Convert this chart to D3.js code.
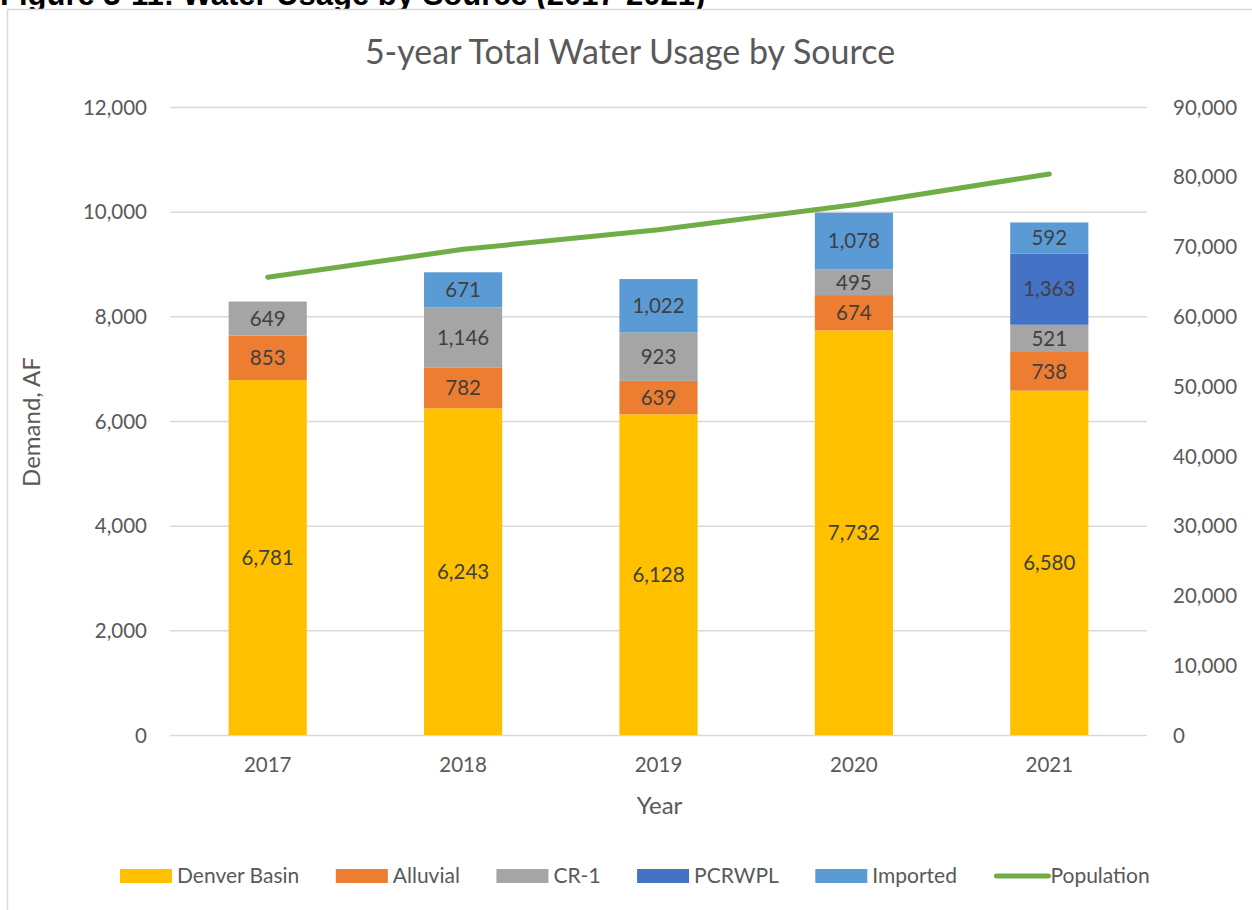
<!DOCTYPE html>
<html>
<head>
<meta charset="utf-8">
<script src="https://cdn.jsdelivr.net/npm/d3@7"></script>
<style>
  html, body { margin: 0; padding: 0; background: #fff; }
  svg { display: block; }
  .tick text { font-family: Lato, "Open Sans", sans-serif; }
</style>
</head>
<body>
<svg id="chart" width="1252" height="910"></svg>
<script>
// data
var years = ["2017", "2018", "2019", "2020", "2021"];
var seriesNames = ["Denver Basin", "Alluvial", "CR-1", "PCRWPL", "Imported"];
var denverBasin = [6781, 6243, 6128, 7732, 6580];
var alluvial = [853, 782, 639, 674, 738];
var cr1 = [649, 1146, 923, 495, 521];
var pcrwpl = [0, 0, 0, 0, 1363];
var imported = [0, 671, 1022, 1078, 592];
var population = [65600, 69600, 72400, 76000, 80400];
var leftTicks = [0, 2000, 4000, 6000, 8000, 10000, 12000];
var rightTicks = [0, 10000, 20000, 30000, 40000, 50000, 60000, 70000, 80000, 90000];

var colors = ["#FFC000", "#ED7D31", "#A5A5A5", "#4472C4", "#5B9BD5"];
var lineColor = "#70AD47";
var font = "Lato, 'Open Sans', sans-serif";
var textColor = "#595959";

var svg = d3.select("#chart");
var W = 1252, H = 910;
var plot = {left: 170, right: 1147, top: 107, bottom: 735};

// page heading, cut off at the top like the source
svg.append("text").text("Figure 3-11: Water Usage by Source (2017-2021)")
    .attr("x", 0).attr("y", 5)
    .attr("font-family", "'Liberation Sans', Arial, sans-serif")
    .attr("font-weight", "bold").attr("font-size", "31px").attr("fill", "#000");

// chart frame
svg.append("rect").attr("x", 7.5).attr("y", 9.5).attr("width", W + 20).attr("height", H + 20)
    .attr("fill", "#fff").attr("stroke", "#d9d9d9").attr("stroke-width", 1.5);

var x = d3.scaleBand().domain(years).range([plot.left, plot.right]).paddingInner(0.6).paddingOuter(0.3);
var y = d3.scaleLinear().domain([0, 12000]).range([plot.bottom, plot.top]);
var y2 = d3.scaleLinear().domain([0, 90000]).range([plot.bottom, plot.top]);
var fmt = d3.format(",");

// gridlines
var grid = svg.append("g").attr("transform", "translate(" + plot.left + ",0)")
    .call(d3.axisLeft(y).tickValues(leftTicks).tickSize(-(plot.right - plot.left)).tickFormat(""));
grid.select(".domain").remove();
grid.selectAll("line").attr("stroke", "#d9d9d9").attr("stroke-width", 1.5);

// left axis labels
var yAxis = svg.append("g").attr("transform", "translate(" + (plot.left - 20) + ",0)")
    .call(d3.axisLeft(y).tickValues(leftTicks).tickSize(0).tickFormat(fmt));
yAxis.select(".domain").remove();
yAxis.selectAll("text").attr("font-size", "20.5px").attr("fill", textColor).attr("dy", "0.35em");

// right axis labels
var y2Axis = svg.append("g").attr("transform", "translate(" + (plot.right + 23) + ",0)")
    .call(d3.axisRight(y2).tickValues(rightTicks).tickSize(0).tickFormat(fmt));
y2Axis.select(".domain").remove();
y2Axis.selectAll("text").attr("font-size", "20.5px").attr("fill", textColor).attr("dy", "0.35em");

// x axis labels
var xAxis = svg.append("g").attr("transform", "translate(0," + plot.bottom + ")")
    .call(d3.axisBottom(x).tickSize(0).tickPadding(22));
xAxis.select(".domain").remove();
xAxis.selectAll("text").attr("font-size", "20.5px").attr("fill", textColor);

// stacked bars
var rows = years.map(function(yr, i){
    return {year: yr, "Denver Basin": denverBasin[i], "Alluvial": alluvial[i], "CR-1": cr1[i], "PCRWPL": pcrwpl[i], "Imported": imported[i]};
});
var stacked = d3.stack().keys(seriesNames)(rows);

var layers = svg.append("g").selectAll("g").data(stacked).enter().append("g")
    .attr("fill", function(d, i){ return colors[i]; });
layers.selectAll("rect").data(function(d){ return d; }).enter().append("rect")
    .attr("x", function(d){ return x(d.data.year); })
    .attr("width", x.bandwidth())
    .attr("y", function(d){ return y(d[1]); })
    .attr("height", function(d){ return y(d[0]) - y(d[1]); });

layers.selectAll("text").data(function(d){ return d.filter(function(s){ return s[1] - s[0] > 0; }); })
    .enter().append("text")
    .text(function(d){ return fmt(d[1] - d[0]); })
    .attr("x", function(d){ return x(d.data.year) + x.bandwidth() / 2; })
    .attr("y", function(d){ return (y(d[0]) + y(d[1])) / 2; })
    .attr("dy", "0.36em")
    .attr("text-anchor", "middle")
    .attr("font-family", font).attr("font-size", "20.5px").attr("fill", "#404040");

// population line
var line = d3.line()
    .x(function(d, i){ return x(years[i]) + x.bandwidth() / 2; })
    .y(function(d){ return y2(d); });
svg.append("path").datum(population).attr("d", line)
    .attr("fill", "none").attr("stroke", lineColor).attr("stroke-width", 5)
    .attr("stroke-linecap", "round").attr("stroke-linejoin", "round");

// titles
svg.append("text").text("5-year Total Water Usage by Source")
    .attr("x", 630).attr("y", 64).attr("text-anchor", "middle")
    .attr("font-family", font).attr("font-size", "34px").attr("fill", textColor);
svg.append("text").text("Year")
    .attr("x", (plot.left + plot.right) / 2 + 1).attr("y", 814).attr("text-anchor", "middle")
    .attr("font-family", font).attr("font-size", "24px").attr("fill", textColor);
svg.append("text").text("Demand, AF")
    .attr("transform", "translate(40,422) rotate(-90)").attr("text-anchor", "middle")
    .attr("font-family", font).attr("font-size", "24px").attr("fill", textColor);

// legend
var legendItems = seriesNames.map(function(n, i){ return {name: n, color: colors[i], line: false}; });
legendItems.push({name: "Population", color: lineColor, line: true});
var legend = svg.append("g");
var lx = 120;
legendItems.forEach(function(item){
    if (item.line){
        legend.append("line").attr("x1", lx + 3).attr("x2", lx + 55).attr("y1", 876).attr("y2", 876)
            .attr("stroke", item.color).attr("stroke-width", 5).attr("stroke-linecap", "round");
    } else {
        legend.append("rect").attr("x", lx).attr("y", 869).attr("width", 52).attr("height", 14).attr("fill", item.color);
    }
    var t = legend.append("text").text(item.name).attr("x", lx + 57).attr("y", 883)
        .attr("font-family", font).attr("font-size", "21px").attr("fill", textColor);
    lx += 57 + t.node().getComputedTextLength() + 36.5;
});
</script>
</body>
</html>
